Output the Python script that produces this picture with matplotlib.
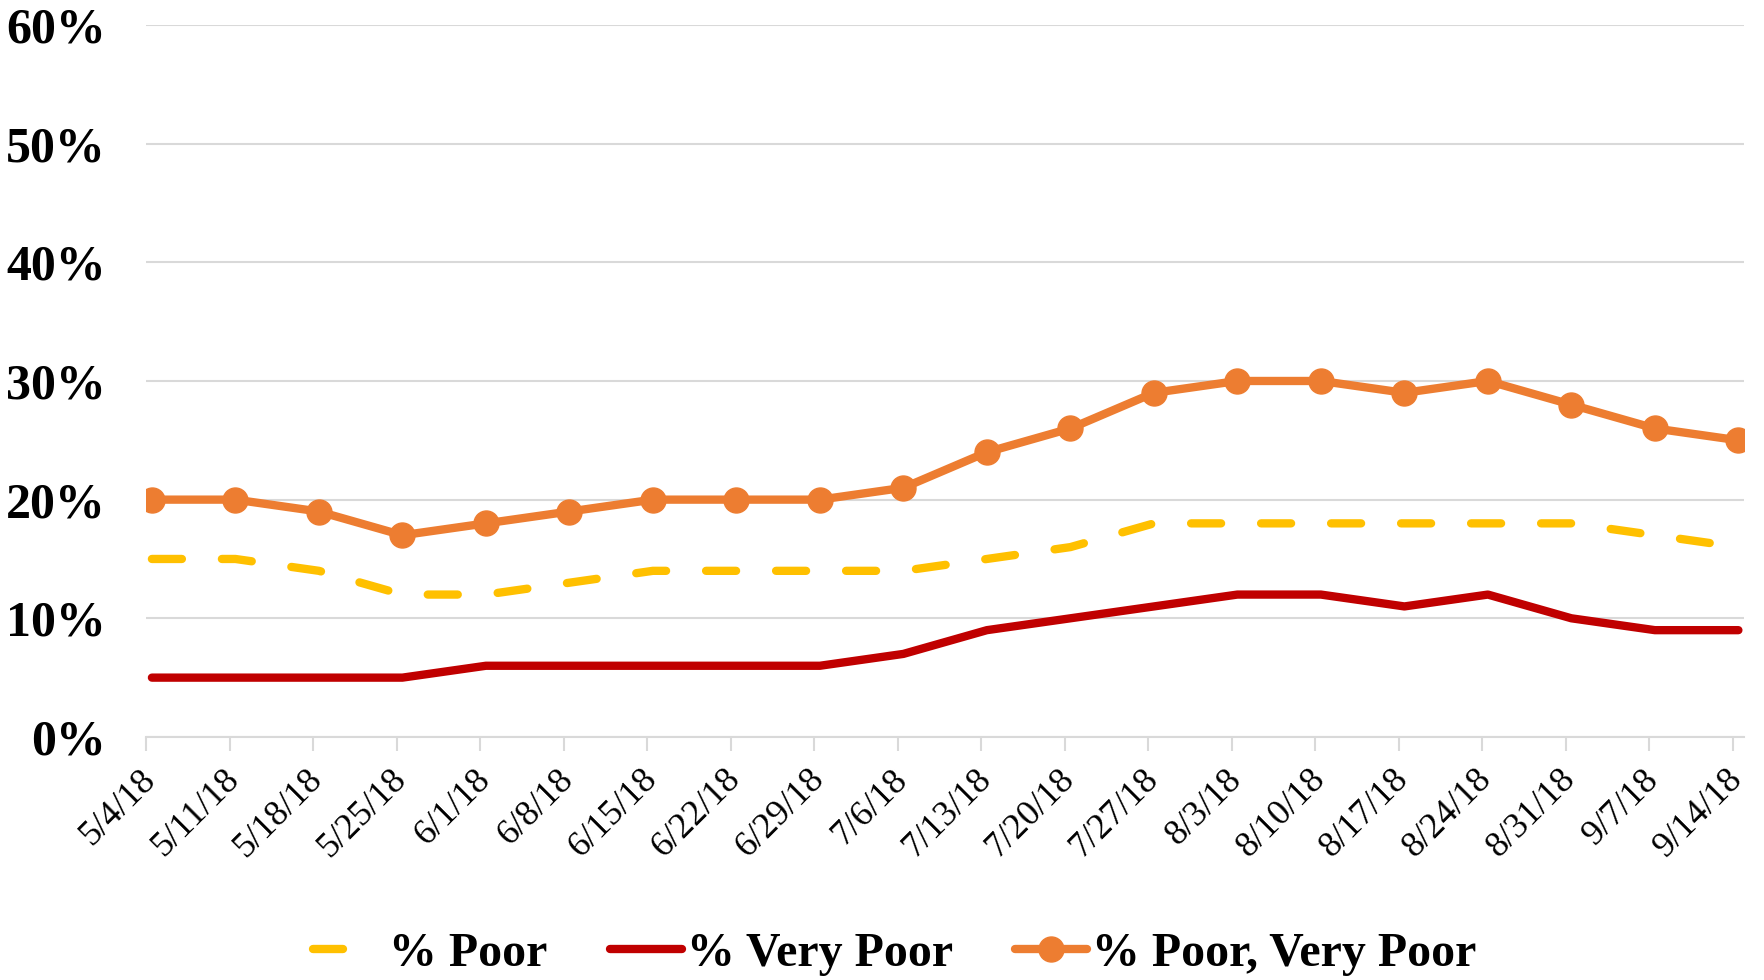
import numpy as np
import matplotlib
matplotlib.use("Agg")
import matplotlib.pyplot as plt
from matplotlib.transforms import ScaledTranslation

plt.rcParams["font.family"] = ["Liberation Serif", "DejaVu Serif"]

dates = ["5/4/18", "5/11/18", "5/18/18", "5/25/18", "6/1/18", "6/8/18", "6/15/18",
         "6/22/18", "6/29/18", "7/6/18", "7/13/18", "7/20/18", "7/27/18", "8/3/18",
         "8/10/18", "8/17/18", "8/24/18", "8/31/18", "9/7/18", "9/14/18"]
poor = [15, 15, 14, 12, 12, 13, 14, 14, 14, 14, 15, 16, 18, 18, 18, 18, 18, 18, 17, 16]
very_poor = [5, 5, 5, 5, 6, 6, 6, 6, 6, 7, 9, 10, 11, 12, 12, 11, 12, 10, 9, 9]
poor_vp = [20, 20, 19, 17, 18, 19, 20, 20, 20, 21, 24, 26, 29, 30, 30, 29, 30, 28, 26, 25]

x = np.arange(len(dates))
yellow, red, orange = "#FFC000", "#C00000", "#ED7D31"
grid = "#D9D9D9"

fig = plt.figure(figsize=(17.64, 9.8), dpi=100)
ax = fig.add_axes([0.0828, 0.248, 0.906, 0.7265])

ax.plot(x, poor, color=yellow, lw=6, dashes=(3.6, 4.8), dash_capstyle="round",
        label="% Poor")
ax.plot(x, very_poor, color=red, lw=6, solid_capstyle="round", label="% Very Poor")
ax.plot(x, poor_vp, color=orange, lw=6, marker="o", ms=18, solid_capstyle="round",
        label="% Poor, Very Poor")

ax.set_ylim(0, 60)
ax.set_yticks(range(0, 61, 10))
ax.set_yticklabels([f"{v}%" for v in range(0, 61, 10)], fontsize=36, fontweight="bold")
ax.tick_params(axis="y", length=0, pad=29)
ax.grid(axis="y", color=grid, lw=1.5)
ax.set_axisbelow(True)

ax.set_xlim(-0.07, len(dates) - 1 + 0.07)
ax.set_xticks(x - 0.07)
ax.set_xticklabels(dates, rotation=45, ha="right", va="center", rotation_mode="anchor",
                   fontsize=26)
ax.tick_params(axis="x", length=10, width=1.5, color=grid, pad=17)
shift = ScaledTranslation(5 / 100, 0, fig.dpi_scale_trans)
for lab in ax.get_xticklabels():
    lab.set_transform(lab.get_transform() + shift)

for s in ["top", "right", "left"]:
    ax.spines[s].set_visible(False)
ax.spines["bottom"].set_color(grid)
ax.spines["bottom"].set_linewidth(1.5)

leg = fig.legend(loc="center", bbox_to_anchor=(0.507, 0.027), ncol=3, frameon=False,
                 prop={"size": 34.5, "weight": "bold"}, handlelength=1.5,
                 handletextpad=0.1, columnspacing=1.3)
leg.get_lines()[0].set_dashes((3.6, 20))

fig.savefig("out.png", dpi=100)
